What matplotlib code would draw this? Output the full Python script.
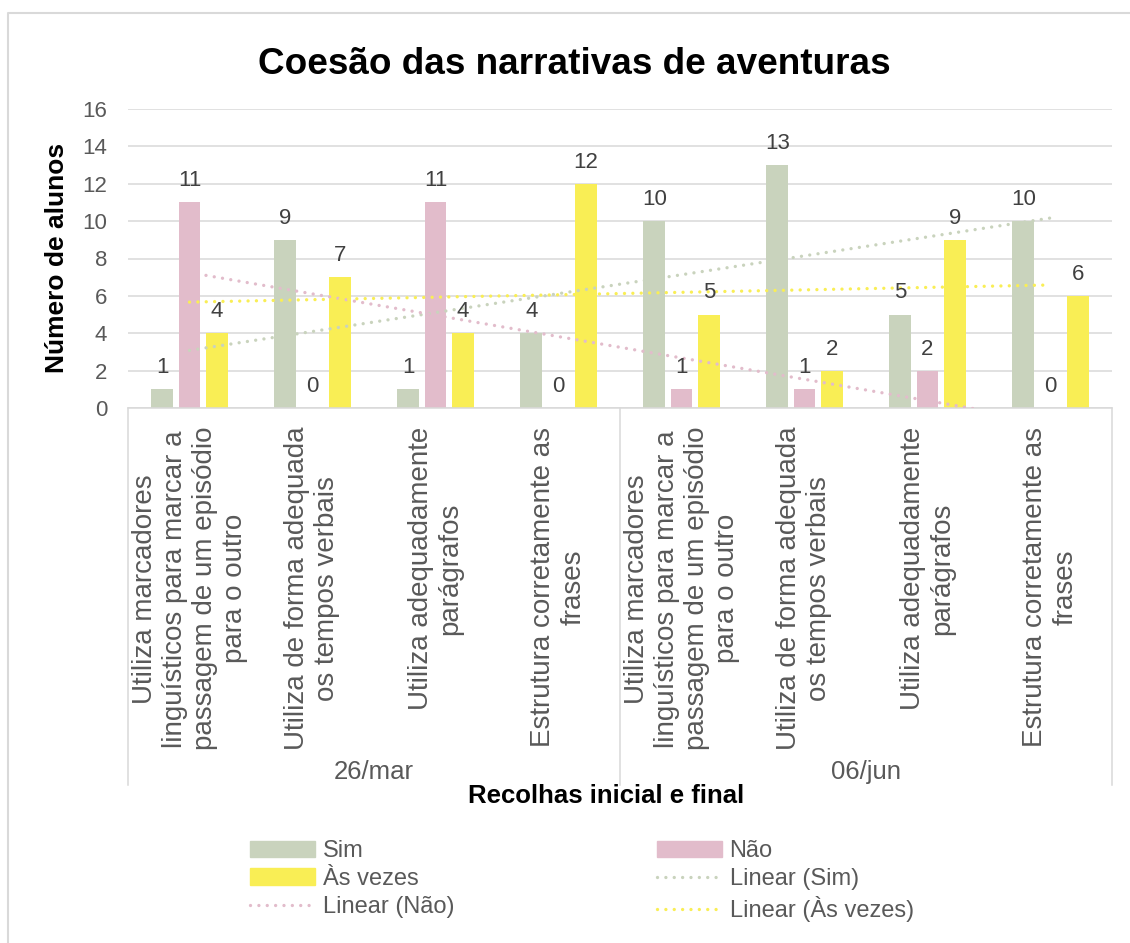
import matplotlib
matplotlib.use("Agg")
import matplotlib.pyplot as plt
import matplotlib.transforms as mtransforms
from matplotlib.lines import Line2D
from matplotlib.patches import Patch
import numpy as np

plt.rcParams["font.family"] = ["Liberation Sans", "DejaVu Sans"]

# ---- data ----
categories = [
    "Utiliza marcadores\nlinguísticos para marcar a\npassagem de um episódio\npara o outro",
    "Utiliza de forma adequada\nos tempos verbais",
    "Utiliza adequadamente\nparágrafos",
    "Estrutura corretamente as\nfrases",
] * 2
groups = ["26/mar", "06/jun"]
sim = [1, 9, 1, 4, 10, 13, 5, 10]
nao = [11, 0, 11, 0, 1, 1, 2, 0]
as_vezes = [4, 7, 4, 12, 5, 2, 9, 6]
yticks = [0, 2, 4, 6, 8, 10, 12, 14, 16]

C_SIM = "#c9d3bd"
C_NAO = "#e2bccb"
C_AV = "#f9ee55"
GRID = "#d9d9d9"
LABEL = "#595959"

W, H = 1130, 943
fig = plt.figure(figsize=(W / 100, H / 100), dpi=100)


def fx(x):
    return x / W


def fy(y):
    return 1 - y / H


ax_l, ax_r, ax_t, ax_b = 128, 1112, 109, 408
ax = fig.add_axes([fx(ax_l), fy(ax_b), fx(ax_r - ax_l), (ax_b - ax_t) / H])

x = np.arange(1, len(sim) + 1)
off, bw = 0.222, 0.175
series = [(sim, C_SIM, "Sim", -off), (nao, C_NAO, "Não", 0), (as_vezes, C_AV, "Às vezes", off)]
for vals, col, name, o in series:
    bars = ax.bar(x + o, vals, width=bw, color=col, zorder=2)
    ax.bar_label(bars, padding=8, fontsize=16, color="#404040", zorder=5)

# linear trendlines (least squares, like Excel's "Linear" trendline)
trend_handles = {}
for vals, col, name, o in series:
    k, b = np.polyfit(x, vals, 1)
    ln, = ax.plot(x, k * x + b, color=col, lw=2.4, linestyle=(0, (0.01, 2.5)),
                  dash_capstyle="round", zorder=3)
    trend_handles[name] = ln

ax.set_xlim(0.5, len(sim) + 0.5)
ax.set_ylim(0, 16)
ax.set_yticks(yticks)
ax.set_xticks([])
ax.yaxis.grid(True, color=GRID, lw=1.1, zorder=0)
ax.set_axisbelow(True)
for s in ["top", "right", "left"]:
    ax.spines[s].set_visible(False)
ax.spines["bottom"].set_color(GRID)
ax.spines["bottom"].set_linewidth(1.1)
ax.tick_params(axis="y", length=0, pad=15, labelsize=16, labelcolor=LABEL)

# multi-level category axis
tr = mtransforms.blended_transform_factory(ax.transData, fig.transFigure)
for xv in [0.5, 4.5, 8.5]:
    fig.add_artist(Line2D([xv, xv], [fy(ax_b), fy(785)], transform=tr,
                          color=GRID, lw=1.1))
for i, lab in enumerate(categories):
    fig.text(i + 1, fy(427), lab, transform=tr, rotation=90, ha="center",
             va="top", multialignment="center", fontsize=20, color=LABEL,
             linespacing=1.2)
for g, lab in enumerate(groups):
    fig.text(2.5 + 4 * g, fy(779), lab, transform=tr, ha="center", va="baseline",
             fontsize=18.5, color=LABEL)

fig.text(fx(606), fy(803), "Recolhas inicial e final", ha="center", va="baseline",
         fontsize=18.5, fontweight="bold", color="black")
fig.text(fx(57.5), fy(258), "Número de alunos", rotation=90, ha="center",
         va="center", fontsize=19, fontweight="bold", color="black")
fig.text(fx(574), fy(74), "Coesão das narrativas de aventuras", ha="center",
         va="baseline", fontsize=26.6, fontweight="bold", color="black")

# chart border (top and left visible)
fig.add_artist(Line2D([fx(8), fx(8), 1], [0, fy(13), fy(13)],
                      transform=fig.transFigure, color=GRID, lw=1.5))

handles = [
    Patch(color=C_SIM), Patch(color=C_AV), trend_handles["Não"],
    Patch(color=C_NAO), trend_handles["Sim"], trend_handles["Às vezes"],
]
labels = ["Sim", "Às vezes", "Linear (Não)", "Não", "Linear (Sim)", "Linear (Às vezes)"]
fig.legend(handles, labels, ncol=2, loc="center", bbox_to_anchor=(fx(582), fy(881)),
           frameon=False, fontsize=17, labelcolor=LABEL, handlelength=2.75,
           handletextpad=0.34, columnspacing=8.55, labelspacing=0.25)

fig.savefig("out.png", dpi=100)
